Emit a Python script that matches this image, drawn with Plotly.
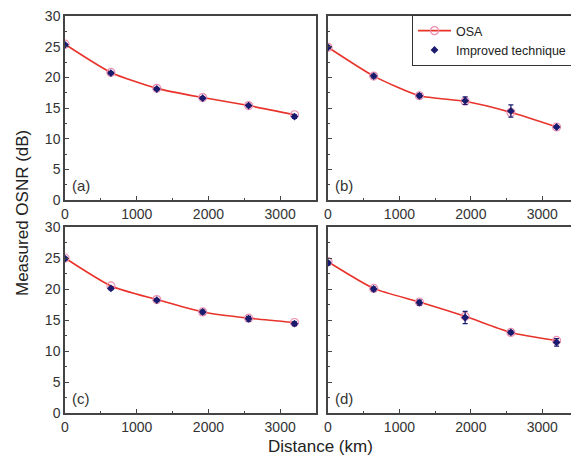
import plotly.graph_objects as go

W, H = 579, 459
OFF = 8  # page body margin offset

distance = [0, 640, 1280, 1920, 2560, 3200]

osa_a = [25.4, 20.8, 18.2, 16.7, 15.4, 13.9]
imp_a = [25.3, 20.7, 18.1, 16.6, 15.4, 13.6]
err_a = [0.2, 0.2, 0.2, 0.2, 0.2, 0.3]

osa_b = [24.9, 20.2, 17.0, 16.1, 14.3, 11.9]
imp_b = [24.9, 20.2, 17.0, 16.2, 14.5, 11.9]
err_b = [0.2, 0.3, 0.3, 0.6, 1.0, 0.2]

osa_c = [25.0, 20.5, 18.3, 16.3, 15.3, 14.6]
imp_c = [24.9, 20.1, 18.2, 16.3, 15.2, 14.4]
err_c = [0.2, 0.2, 0.2, 0.3, 0.4, 0.3]

osa_d = [24.4, 20.1, 17.9, 15.6, 13.0, 11.7]
imp_d = [24.2, 20.0, 17.8, 15.4, 13.0, 11.4]
err_d = [0.3, 0.3, 0.4, 1.0, 0.3, 0.6]

panel_labels = ["(a)", "(b)", "(c)", "(d)"]
legend_names = ["OSA", "Improved technique"]

x_ticks = [0, 1000, 2000, 3000]
y_ticks = [0, 5, 10, 15, 20, 25, 30]

# panel pixel boxes in window coords (left, right, top, bottom)
boxes = [(65, 316, 16, 200), (328, 578, 16, 200), (65, 316, 227, 413), (328, 578, 227, 413)]


def px(x):
    return (x - OFF) / W


def py(y):
    return 1 - (y - OFF) / H


RED = "#e8322a"
NAVY = "#1a1a6e"
PINK = "#ec8fb0"
AX = "#444444"
FONT = "Liberation Sans, Arial, sans-serif"

fig = go.Figure()

series = [(osa_a, imp_a, err_a), (osa_b, imp_b, err_b), (osa_c, imp_c, err_c), (osa_d, imp_d, err_d)]

for i, ((osa, imp, err), box) in enumerate(zip(series, boxes)):
    n = i + 1
    xa = "x" if n == 1 else f"x{n}"
    ya = "y" if n == 1 else f"y{n}"
    fig.add_trace(go.Scatter(
        x=distance, y=osa, mode="lines+markers", name=legend_names[0],
        line=dict(color=RED, width=1.6, shape="spline", smoothing=0.6),
        marker=dict(symbol="circle-open", size=8, color=PINK, line=dict(width=1.2, color=PINK)),
        xaxis=xa, yaxis=ya, showlegend=(i == 0),
    ))
    fig.add_trace(go.Scatter(
        x=distance, y=imp, mode="markers", name=legend_names[1],
        marker=dict(symbol="diamond", size=6, color=NAVY),
        error_y=dict(type="data", array=err, color=NAVY, thickness=1.2, width=2.5),
        xaxis=xa, yaxis=ya, showlegend=(i == 0),
    ))
    l, r, t, b = box
    xdom = [px(l), px(r)]
    ydom = [py(b), py(t)]
    left_col = (i % 2 == 0)
    fig.update_layout(**{
        ("xaxis" if n == 1 else f"xaxis{n}"): dict(
            domain=xdom, range=[0, 3500], anchor=ya,
            tickvals=x_ticks, ticks="inside", ticklen=4, tickcolor=AX,
            showline=True, linecolor=AX, linewidth=1.5, mirror=True,
            showgrid=False, zeroline=False, automargin=False,
            ticklabeloverflow="allow",
            tickfont=dict(size=14, color="#333333", family=FONT),
            minor=dict(dtick=500, ticks="inside", ticklen=2.5, tickcolor=AX),
        ),
        ("yaxis" if n == 1 else f"yaxis{n}"): dict(
            domain=ydom, range=[0, 30], anchor=xa,
            tickvals=y_ticks, ticks="inside", ticklen=4, tickcolor=AX,
            showticklabels=left_col,
            showline=True, linecolor=AX, linewidth=1.5, mirror=True,
            showgrid=False, zeroline=False, automargin=False,
            ticklabeloverflow="allow",
            tickfont=dict(size=14, color="#333333", family=FONT),
            minor=dict(dtick=2.5, ticks="inside", ticklen=2.5, tickcolor=AX),
        ),
    })
    fig.add_annotation(
        xref=f"{xa} domain", yref=f"{ya} domain", x=0.02, y=0.02,
        xanchor="left", yanchor="bottom", text=panel_labels[i], showarrow=False,
        font=dict(size=15, color="#333333", family=FONT),
    )

# axis titles
fig.add_annotation(xref="paper", yref="paper", x=px(320), y=py(446),
                   xanchor="center", yanchor="middle",
                   text="Distance (km)", showarrow=False,
                   font=dict(size=17, color="#222222", family=FONT))
fig.add_annotation(xref="paper", yref="paper", x=px(22), y=py(213),
                   xanchor="center", yanchor="middle",
                   text="Measured OSNR (dB)", showarrow=False, textangle=-90,
                   font=dict(size=17, color="#222222", family=FONT))

# legend shadow
fig.add_shape(type="rect", xref="paper", yref="paper",
              x0=px(416), x1=px(577), y0=py(61), y1=py(18),
              fillcolor="#333333", line=dict(width=0), layer="above")

fig.update_layout(
    width=W, height=H,
    margin=dict(l=0, r=0, t=0, b=0, pad=0, autoexpand=False),
    paper_bgcolor="white", plot_bgcolor="white",
    font=dict(family=FONT, color="#333333"),
    legend=dict(
        x=px(412), y=py(15), xanchor="left", yanchor="top",
        bgcolor="white", bordercolor="#333333", borderwidth=1,
        font=dict(size=12.5, color="#222222", family=FONT),
        itemwidth=33, tracegroupgap=0,
    ),
)

fig.write_html("out.html")
